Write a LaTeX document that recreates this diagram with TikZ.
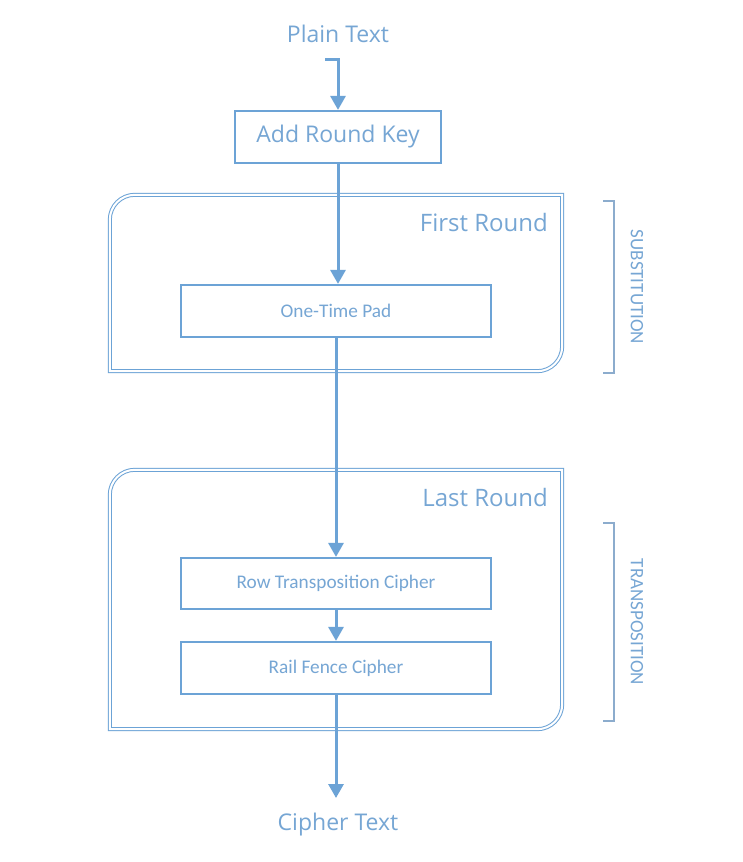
\documentclass[tikz,border=0pt]{standalone}
\usepackage{fontspec}
\setmainfont{Open Sans}
\newfontfamily\calfont{Carlito}
\usetikzlibrary{arrows.meta}
\definecolor{lineblue}{RGB}{108,163,214}
\definecolor{textblue}{RGB}{118,166,212}
\definecolor{brackblue}{RGB}{140,172,205}
\tikzset{
  x=1pt, y=1pt,
  titletext/.style={text=textblue, font=\fontsize{23}{26}\selectfont, inner sep=0pt},
  roundtitle/.style={text=textblue, font=\fontsize{24}{27}\selectfont, inner sep=0pt, anchor=east},
  bigbox/.style={draw=lineblue, line width=2.2pt, text=textblue, font=\fontsize{23}{26}\selectfont,
    minimum width=206pt, minimum height=52pt, inner sep=0pt},
  smallbox/.style={draw=lineblue, line width=2.2pt, text=textblue, font=\calfont\fontsize{19.3}{22}\selectfont,
    minimum width=310pt, minimum height=52pt, inner sep=0pt},
  roundarea/.style={draw=none, minimum width=452pt, inner sep=0pt},
  dbl/.style={draw=lineblue, line width=1pt, double=white, double distance=2pt},
  flow/.style={draw=lineblue, line width=3pt, -{Triangle[width=15pt,length=14pt]}},
  brack/.style={draw=brackblue, line width=1.4pt},
  sidelabel/.style={text=textblue, font=\calfont\fontsize{19}{22}\selectfont, rotate=-90, inner sep=0pt}
}
\begin{document}
\begin{tikzpicture}
\useasboundingbox[fill=white] (0,0) rectangle (742,-862);

% round containers
\node[roundarea, minimum height=176pt] (r1) at (336,-283) {};
\node[roundarea, minimum height=259pt] (r2) at (336,-599.5) {};
\draw[dbl] ([yshift=-25pt]r1.north west) arc[start angle=180, end angle=90, radius=25pt]
  -- (r1.north east) -- ([yshift=25pt]r1.south east)
  arc[start angle=0, end angle=-90, radius=25pt] -- (r1.south west) -- cycle;
\draw[dbl] ([yshift=-25pt]r2.north west) arc[start angle=180, end angle=90, radius=25pt]
  -- (r2.north east) -- ([yshift=25pt]r2.south east)
  arc[start angle=0, end angle=-90, radius=25pt] -- (r2.south west) -- cycle;
\node[roundtitle] (r1t) at (548,-222) {First Round};
\node[roundtitle] (r2t) at (548,-497) {Last Round};

% nodes
\node[titletext] (plain) at (338,-34) {Plain Text};
\node[bigbox] (ark) at (338,-137) {Add Round Key};
\node[smallbox] (otp) at (336,-311) {One-Time Pad};
\node[smallbox, minimum height=51pt] (row) at (336,-583.5) {Row Transposition Cipher};
\node[smallbox] (rail) at (336,-668) {Rail Fence Cipher};
\node[titletext] (cipher) at (338,-825) {Cipher Text};
\coordinate (hook) at (325,-59);
\coordinate (cend) at (336,-798);

% connectors
\draw[flow] (hook) -- (hook -| ark.north) -- (ark.north);
\draw[flow] (ark.south) -- (ark.south |- otp.north);
\draw[flow] (otp.south) -- (row.north);
\draw[flow] (row.south) -- (rail.north);
\draw[flow] (rail.south) -- (cend);

% side brackets
\coordinate (b1a) at (603,-201);
\coordinate (b1b) at (603,-373);
\coordinate (b2a) at (603,-523);
\coordinate (b2b) at (603,-721);
\draw[brack] (b1a) -- ++(11,0) |- (b1b);
\draw[brack] (b2a) -- ++(11,0) |- (b2b);
\node[sidelabel] (sub) at (637,-287) {SUBSTITUTION};
\node[sidelabel] (trans) at (637,-622) {TRANSPOSITION};
\end{tikzpicture}
\end{document}
